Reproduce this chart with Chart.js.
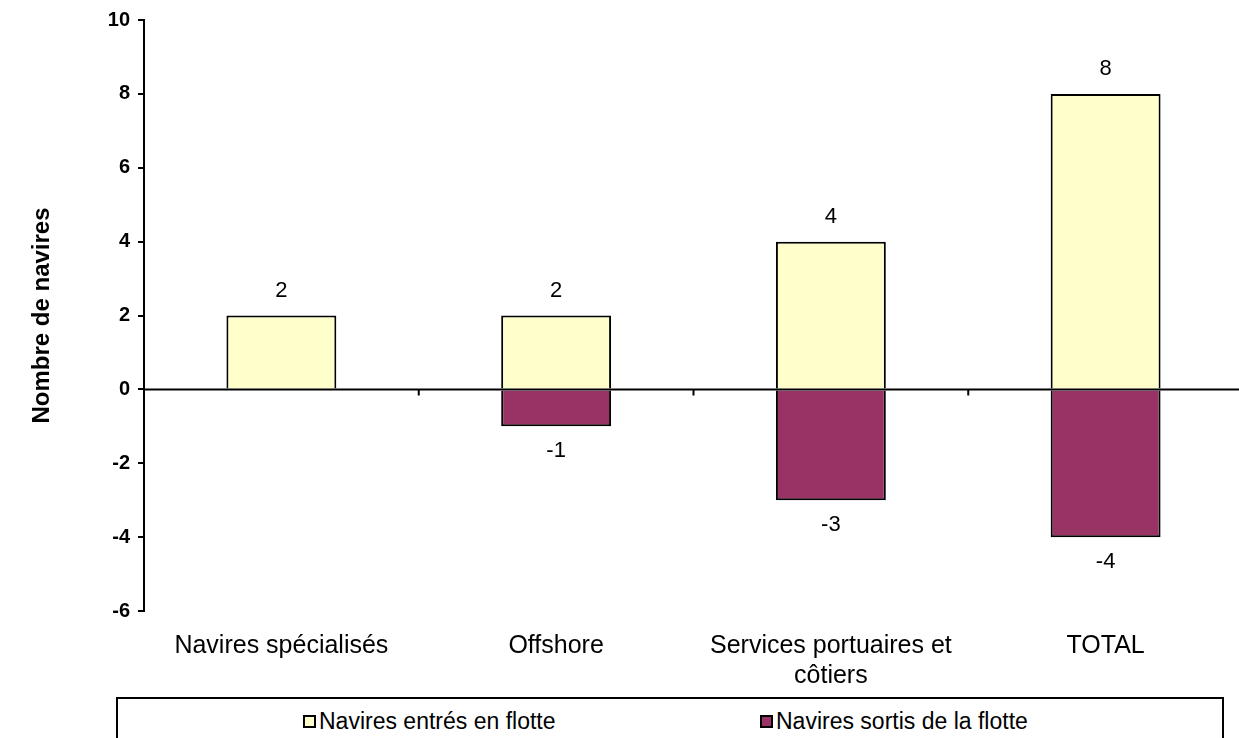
<!DOCTYPE html>
<html><head><meta charset="utf-8">
<script src="https://cdn.jsdelivr.net/npm/chart.js@4/dist/chart.umd.min.js"></script>
<style>
html,body{margin:0;padding:0;background:#fff;overflow:hidden;}
#wrap{position:relative;width:1245px;height:738px;}
#c{position:absolute;left:0;top:0;}
#legend{position:absolute;left:116px;top:697px;width:1108px;height:80px;border:2px solid #000;box-sizing:border-box;font-family:'Liberation Sans',Arial,sans-serif;font-size:23px;color:#000;}
.li{position:absolute;top:8px;height:28px;display:flex;align-items:center;white-space:nowrap;}
.sw{width:9px;height:9px;border:2px solid #000;margin-right:3px;}
</style></head>
<body><div id="wrap"><canvas id="c" width="1245" height="697"></canvas><div id="legend"></div></div>
<script>
const categories = ['Navires spécialisés', 'Offshore', ['Services portuaires et', 'côtiers'], 'TOTAL'];
const entered = [2, 2, 4, 8];
const exited = [null, -1, -3, -4];
const seriesNames = ['Navires entrés en flotte', 'Navires sortis de la flotte'];
const seriesColors = ['#FFFFCC', '#993366'];
const yMin = -6, yMax = 10, yStep = 2;
const yTitle = 'Nombre de navires';

const FONT = "'Liberation Sans', Arial, sans-serif";

const refLines = {
  id: 'refLines',
  afterDatasetsDraw(chart) {
    const {ctx, chartArea, scales} = chart;
    const y0 = scales.y.getPixelForValue(0);
    ctx.save();
    ctx.strokeStyle = '#000';
    ctx.lineWidth = 2;
    ctx.beginPath();
    ctx.moveTo(chartArea.left, y0);
    ctx.lineTo(chartArea.right, y0);
    const n = chart.data.labels.length;
    for (let i = 1; i < n; i++) {
      const bx = (scales.x.getPixelForTick(i - 1) + scales.x.getPixelForTick(i)) / 2;
      ctx.moveTo(bx, y0);
      ctx.lineTo(bx, y0 + 6);
    }
    ctx.stroke();
    ctx.restore();
  }
};

const valueLabels = {
  id: 'valueLabels',
  afterDatasetsDraw(chart) {
    const {ctx} = chart;
    ctx.save();
    ctx.font = '22px ' + FONT;
    ctx.fillStyle = '#000';
    ctx.textAlign = 'center';
    ctx.textBaseline = 'middle';
    chart.data.datasets.forEach((ds, di) => {
      const meta = chart.getDatasetMeta(di);
      meta.data.forEach((bar, i) => {
        const v = ds.data[i];
        if (v === null || v === undefined) return;
        const y = v >= 0 ? bar.y - 25 : bar.y + 25;
        ctx.fillText(String(v), bar.x, y);
      });
    });
    ctx.restore();
  }
};

const chart = new Chart(document.getElementById('c'), {
  type: 'bar',
  data: {
    labels: categories,
    datasets: [
      {label: seriesNames[0], data: entered, backgroundColor: seriesColors[0], borderColor: '#000', borderWidth: 2},
      {label: seriesNames[1], data: exited, backgroundColor: seriesColors[1], borderColor: '#000', borderWidth: 2}
    ]
  },
  options: {
    responsive: false,
    animation: false,
    devicePixelRatio: 1,
    barPercentage: 0.4,
    categoryPercentage: 1.0,
    layout: {padding: {top: 19, right: 2, left: 0, bottom: 0}},
    plugins: {legend: {display: false}, tooltip: {enabled: false}},
    scales: {
      x: {
        stacked: true,
        grid: {display: false, drawTicks: false},
        border: {display: false},
        ticks: {font: {family: FONT, size: 25, lineHeight: 1.2}, color: '#000', padding: 20, maxRotation: 0, autoSkip: false},
        afterFit(s) { s.height = 86; }
      },
      y: {
        stacked: true,
        min: yMin, max: yMax,
        ticks: {stepSize: yStep, font: {family: FONT, size: 20, weight: 'bold'}, color: '#000', padding: 8},
        grid: {drawOnChartArea: false, drawTicks: true, tickLength: 6, color: '#000', lineWidth: 2},
        border: {display: true, color: '#000', width: 2},
        title: {display: true, text: yTitle, font: {family: FONT, size: 24, weight: 'bold'}, color: '#000', padding: {top: 28, bottom: 0}},
        afterFit(s) { s.width = 144; }
      }
    }
  },
  plugins: [refLines, valueLabels]
});

// legend built from the chart's datasets
const legendPos = [185, 642];
const lg = document.getElementById('legend');
chart.data.datasets.forEach((ds, i) => {
  const item = document.createElement('div');
  item.className = 'li';
  item.style.left = legendPos[i] + 'px';
  const sw = document.createElement('span');
  sw.className = 'sw';
  sw.style.background = ds.backgroundColor;
  const tx = document.createElement('span');
  tx.textContent = ds.label;
  item.appendChild(sw); item.appendChild(tx);
  lg.appendChild(item);
});
</script>
</body></html>
